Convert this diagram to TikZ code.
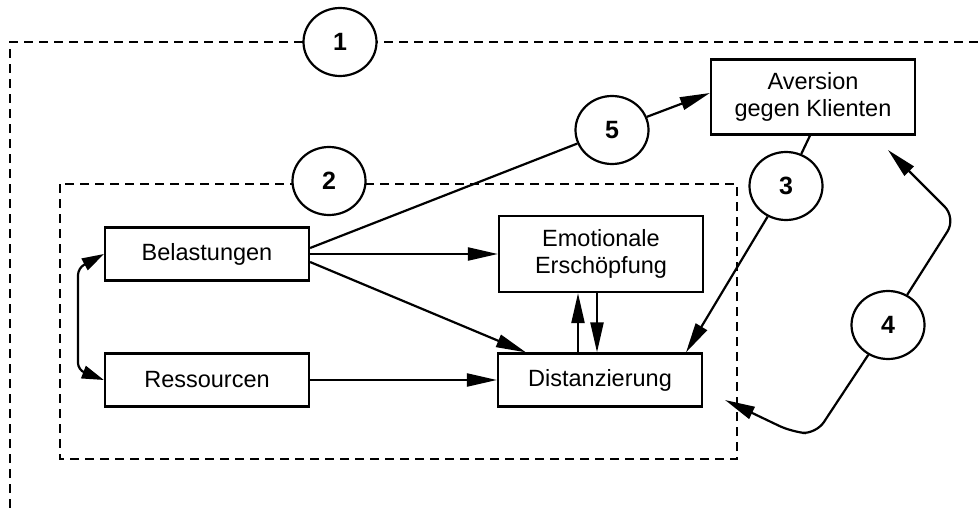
\documentclass[tikz,border=0pt]{standalone}
\usepackage{fontspec}
\setmainfont{Liberation Sans}
\usetikzlibrary{shapes.geometric,arrows.meta}

\begin{document}
\begin{tikzpicture}[x=1pt, y=-1pt, node distance=126pt, auto,
  >={Triangle[length=30pt,width=13pt]}, line width=2.2pt,
  kasten/.style={draw, minimum width=204pt, minimum height=53pt, align=center,
    font=\fontsize{23.5}{27}\selectfont},
  nummer/.style={draw, fill=white, ellipse, minimum width=73pt, minimum height=68pt,
    inner sep=0pt, font=\fontsize{25}{30}\selectfont\bfseries},
  rahmen/.style={dash pattern=on 9pt off 6pt}]
\useasboundingbox (0,0) rectangle (979,508);
% rahmen
\draw[rahmen] (10,508) -- (10,42) -- (979,42);
\draw[rahmen] (60,184) rectangle (737,459);
% kaesten
\node[kasten] (belast) at (207,254) {Belastungen};
\node[kasten] (ressourc) [below of=belast] {Ressourcen};
\node[kasten, minimum height=76pt] (emot) [right of=belast, node distance=394pt] {Emotionale\\Erschöpfung};
\node[kasten] (dist) [right of=ressourc, node distance=393pt] {Distanzierung};
\node[kasten, minimum height=75pt] (avers) at (813,97) {Aversion\\gegen Klienten};
% nummern
\node[nummer] (n1) at (340,42) {1};
\node[nummer] (n2) at (329,181) {2};
\node[nummer] (n5) at (612,130) {5};
\node[nummer] (n3) at (786,186) {3};
\node[nummer] (n4) at (888,325) {4};
\coordinate (lo) at (78,268);
\coordinate (lu) at (78,370);
\coordinate (oben4) at (888,150);
\coordinate (unten4) at (725,400);
\draw[->] (belast) to (emot);
\draw[->] ([yshift=-8pt]belast.east) to ([xshift=-74pt]dist.north);
\draw[->] (ressourc) to (dist);
\draw[{Triangle[length=22pt,width=13pt]}-{Triangle[length=22pt,width=13pt]}, rounded corners=7pt]
  (belast.west) -- (lo) -- (lu) -- (ressourc.west);
\draw[->] ([xshift=-4pt]emot.south) to ([xshift=-4pt]emot.south |- dist.north);
\draw[->] ([xshift=-22pt]dist.north) to ([xshift=-22pt]dist.north |- emot.south);
\draw ([yshift=6pt]belast.east) to (n5);
\draw[->] (n5) to ([yshift=4pt]avers.west);
\draw ([xshift=-3pt]avers.south) to (n3);
\draw[->] (n3) to ([xshift=86pt]dist.north);
\draw[->, rounded corners=16pt] (n4) -- (956,218) -- (oben4);
\draw[->, rounded corners=14pt] (n4) -- (816,434) -- (792,432) -- (unten4);
\end{tikzpicture}
\end{document}
